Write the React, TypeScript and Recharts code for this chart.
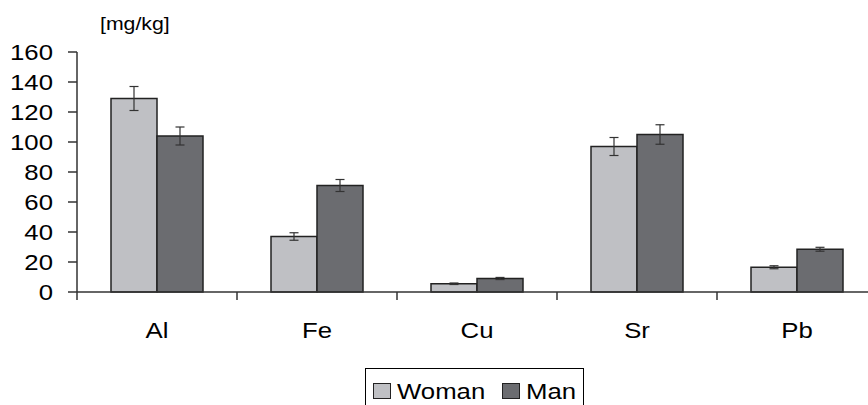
import React from "react";
import { BarChart, Bar, XAxis, YAxis, ErrorBar } from "recharts";

const elements = ["Al", "Fe", "Cu", "Sr", "Pb"];
const womanValues = [129, 37, 5.5, 97, 16.5];
const womanErrors = [8, 2.5, 0.5, 6, 1];
const manValues = [104, 71, 9, 105, 28.5];
const manErrors = [6, 4, 0.7, 6.5, 1.3];
const yTicks = [0, 20, 40, 60, 80, 100, 120, 140, 160];

const series = [
  { key: "woman", name: "Woman", color: "#bfc0c4" },
  { key: "man", name: "Man", color: "#6b6c70" },
];

const data = elements.map((el, i) => ({
  element: el,
  woman: womanValues[i],
  womanErr: womanErrors[i],
  man: manValues[i],
  manErr: manErrors[i],
}));

const FONT = "'Liberation Sans', Arial, sans-serif";
const STRETCH = 1.12;
const CHART_W = 890;
const MARGIN = { top: 52, right: 13, bottom: 53, left: 0 };
const Y_W = 77;

function YTick({ x, y, payload }: any) {
  return (
    <text
      transform={`translate(${x},${y}) scale(${STRETCH},1)`}
      textAnchor="end"
      dy="0.36em"
      fontSize={23}
      fontFamily={FONT}
      fill="#000"
    >
      {payload.value}
    </text>
  );
}

function XTick({ x, y, payload }: any) {
  const half =
    payload.offset ?? (CHART_W - MARGIN.left - MARGIN.right - Y_W) / elements.length / 2;
  return (
    <g>
      <line x1={x - half} y1={y} x2={x - half} y2={y + 8} stroke="#333" strokeWidth={1.5} />
      <text
        transform={`translate(${x},${y + 46}) scale(${STRETCH},1)`}
        textAnchor="middle"
        fontSize={23}
        fontFamily={FONT}
        fill="#000"
      >
        {payload.value}
      </text>
    </g>
  );
}

export default function App() {
  return (
    <div
      style={{
        position: "absolute",
        left: 0,
        top: 0,
        width: 868,
        height: 405,
        overflow: "hidden",
        background: "#fff",
      }}
    >
      <BarChart
        width={CHART_W}
        height={405}
        data={data}
        margin={MARGIN}
        barCategoryGap={34}
        barGap={0}
      >
        <XAxis
          dataKey="element"
          tick={<XTick />}
          tickLine={false}
          tickSize={0}
          tickMargin={0}
          height={60}
          stroke="#333"
          strokeWidth={1.5}
          interval={0}
        />
        <YAxis
          domain={[0, 160]}
          ticks={yTicks}
          width={Y_W}
          tick={<YTick />}
          tickSize={9}
          tickMargin={15}
          stroke="#333"
          strokeWidth={1.5}
          interval={0}
        />
        {series.map((s) => (
          <Bar
            key={s.key}
            dataKey={s.key}
            name={s.name}
            fill={s.color}
            stroke="#222"
            strokeWidth={1.5}
            isAnimationActive={false}
          >
            <ErrorBar dataKey={`${s.key}Err`} width={4.5} stroke="#333" strokeWidth={1.2} />
          </Bar>
        ))}
      </BarChart>

      <svg
        width={200}
        height={40}
        style={{ position: "absolute", left: 80, top: 0 }}
      >
        <text
          transform={`translate(20,30) scale(${STRETCH},1)`}
          fontSize={19}
          fontFamily={FONT}
          fill="#000"
        >
          [mg/kg]
        </text>
      </svg>

      <div
        style={{
          position: "absolute",
          left: 365,
          top: 368,
          width: 219,
          height: 50,
          border: "1.5px solid #000",
          boxSizing: "border-box",
          background: "#fff",
        }}
      >
        <svg width={219} height={50}>
          {series.map((s, i) => (
            <g key={s.key} transform={`translate(${7 + i * 129},0)`}>
              <rect x={0.5} y={14.5} width={17} height={15} fill={s.color} stroke="#222" strokeWidth={1} />
              <text
                transform={`translate(24,29.5) scale(${STRETCH},1)`}
                fontSize={23}
                fontFamily={FONT}
                fill="#000"
              >
                {s.name}
              </text>
            </g>
          ))}
        </svg>
      </div>
    </div>
  );
}
